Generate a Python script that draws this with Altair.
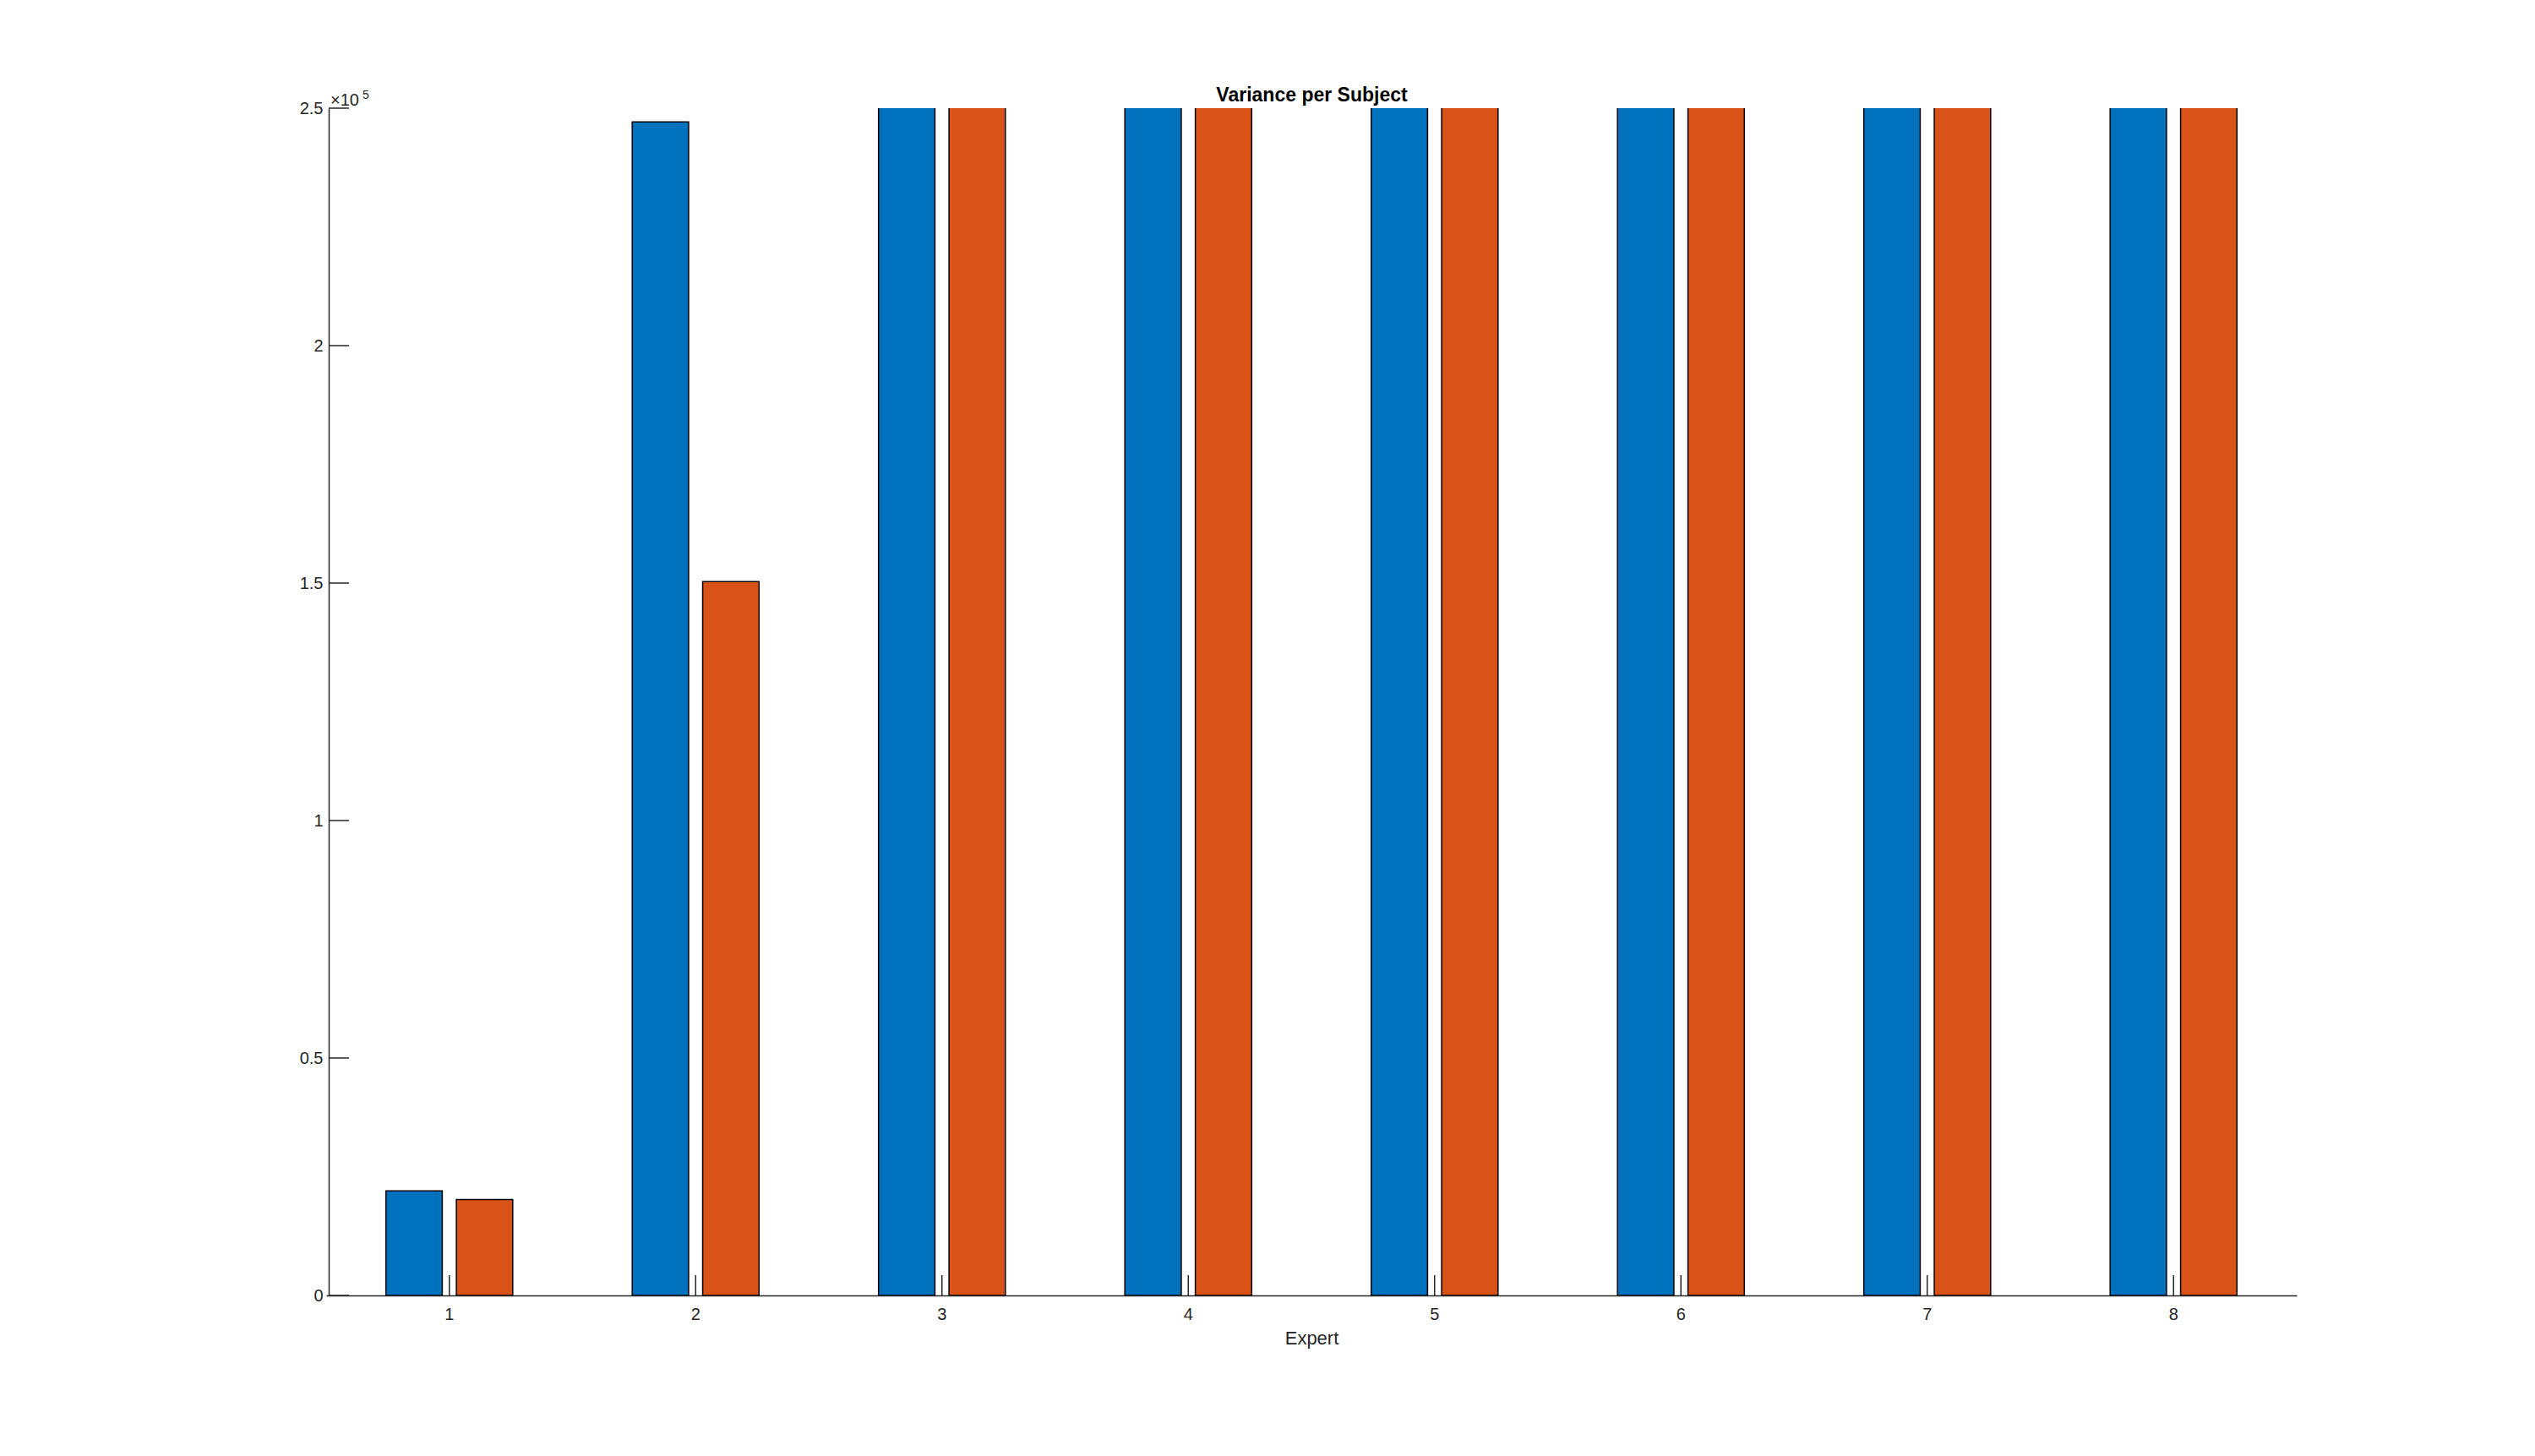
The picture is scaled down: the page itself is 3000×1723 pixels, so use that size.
import altair as alt
import pandas as pd

experts = [1, 2, 3, 4, 5, 6, 7, 8]
series_names = ["Series 1", "Series 2"]
series1 = [22000, 247100, 260000, 260000, 260000, 260000, 260000, 260000]
series2 = [20200, 150300, 260000, 260000, 260000, 260000, 260000, 260000]
colors = ["#0072BD", "#D95319"]
y_ticks = [0, 50000, 100000, 150000, 200000, 250000]
title_text = "Variance per Subject"
x_title = "Expert"
exp_base = ["\u00d710"]
exp_power = ["5"]

rows = []
for i, e in enumerate(experts):
    rows.append({"expert": e, "series": series_names[0], "value": series1[i]})
    rows.append({"expert": e, "series": series_names[1], "value": series2[i]})
df = pd.DataFrame(rows)

W, H = 2327, 1405
FONT = "Liberation Sans"
TXT = "#262626"

xscale = alt.Scale(domain=experts, range=[-3, 2329], paddingInner=0, paddingOuter=0)
yscale = alt.Scale(domain=[0, 250000], nice=False, zero=True)

x_enc = alt.X(
    "expert:O", scale=xscale,
    axis=alt.Axis(title=x_title, labelAngle=0, ticks=False, tickSize=0, labelPadding=12,
                  grid=False, domainColor=TXT, domainWidth=1.5, labelFont=FONT,
                  labelFontSize=20, labelColor=TXT, titleFont=FONT, titleFontSize=22,
                  titleFontWeight="normal", titleColor=TXT, titlePadding=8),
)
y_enc = alt.Y(
    "value:Q", scale=yscale,
    axis=alt.Axis(title=None, values=y_ticks, labelExpr="datum.value / 100000",
                  ticks=False, tickSize=0, labelPadding=7, grid=False, domainColor=TXT,
                  domainWidth=1.5, labelFont=FONT, labelFontSize=20, labelColor=TXT),
)

bars = alt.Chart(df).mark_bar(stroke="black", strokeWidth=1.5, clip=True).encode(
    x=x_enc,
    xOffset=alt.XOffset("series:N", scale=alt.Scale(domain=series_names, paddingInner=0.2,
                                                    paddingOuter=0.848)),
    y=y_enc,
    color=alt.Color("series:N", scale=alt.Scale(domain=series_names, range=colors), legend=None),
)

xticks = alt.Chart(pd.DataFrame({"expert": experts})).mark_rule(color=TXT, strokeWidth=1.5).encode(
    x=x_enc, y=alt.value(H), y2=alt.value(H - 24)
)

yticks = alt.Chart(pd.DataFrame({"value": y_ticks})).mark_rule(color=TXT, strokeWidth=1.5).encode(
    y=y_enc, x=alt.value(0), x2=alt.value(24)
)

exp1 = alt.Chart(pd.DataFrame({"t": exp_base})).mark_text(
    font=FONT, fontSize=20, color=TXT, align="left", baseline="alphabetic"
).encode(x=alt.value(2), y=alt.value(-3), text="t:N")

exp2 = alt.Chart(pd.DataFrame({"t": exp_power})).mark_text(
    font=FONT, fontSize=14, color=TXT, align="left", baseline="alphabetic"
).encode(x=alt.value(40), y=alt.value(-11), text="t:N")

chart = alt.layer(bars, xticks, yticks, exp1, exp2).properties(
    width=W, height=H,
    title=alt.TitleParams(title_text, fontSize=23, fontWeight="bold", font=FONT, color="black",
                          anchor="middle", offset=-37, baseline="alphabetic"),
    autosize=alt.AutoSizeParams(type="none"),
    padding={"left": 389, "top": 128, "right": 284, "bottom": 190},
    background="white",
).configure_view(stroke=None)

chart.save("out.html", embed_options={"renderer": "svg", "actions": False})
